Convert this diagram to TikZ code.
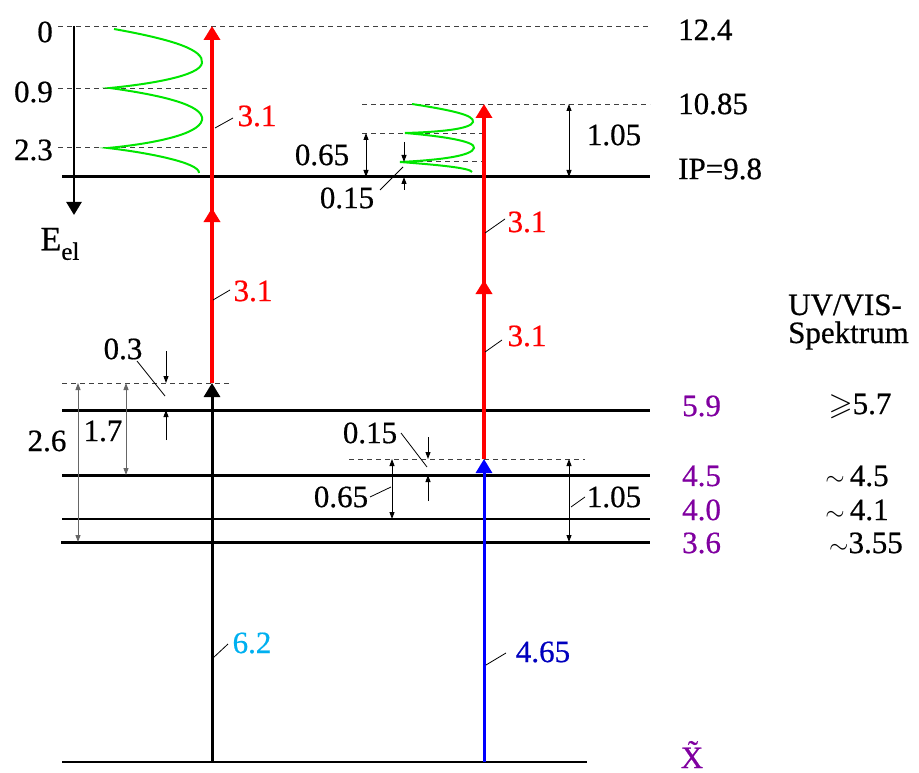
\documentclass[tikz,border=0pt]{standalone}
\usepackage{amssymb}
\usepackage{fontspec}
\setmainfont{Liberation Serif}
\newfontfamily\tmsfont[FakeBold=0.6]{Liberation Serif}
\usetikzlibrary{arrows.meta}
\definecolor{lvpurple}{RGB}{128,0,160}
\definecolor{cyanlab}{RGB}{0,176,240}
\definecolor{navylab}{RGB}{0,0,190}
\definecolor{wavegreen}{RGB}{0,230,0}
\begin{document}
\begin{tikzpicture}[x=1pt,y=-1pt,
  font=\tmsfont\fontsize{31}{36}\selectfont,
  level/.style={line width=3pt},
  thinlevel/.style={line width=2pt},
  dashlev/.style={dash pattern=on 5pt off 4pt, line width=0.9pt, black!75},
  photon/.style={line width=3.5pt, -{Triangle[length=14pt,width=16pt]}},
  dimarr/.style={line width=0.9pt, {Triangle[length=7pt,width=5pt]}-{Triangle[length=7pt,width=5pt]}},
  sarrow/.style={line width=0.9pt, -{Triangle[length=7pt,width=5pt]}},
  leader/.style={line width=0.8pt},
  lab/.style={inner sep=0pt},
  wave/.style={wavegreen, line width=2pt}]
\useasboundingbox (0,0) rectangle (919,773);

% dashed reference lines
\draw[dashlev] (58,26) -- (648,26);
\draw[dashlev] (58,88) -- (210,88);
\draw[dashlev] (58,147) -- (210,147);
\draw[dashlev] (362,104) -- (650,104);
\draw[dashlev] (362,133) -- (482,133);
\draw[dashlev] (400,161) -- (482,161);
\draw[dashlev] (62,383) -- (230,383);
\draw[dashlev] (349,459) -- (585,459);

% vibrational waves
\draw[wave] (114,29) .. controls (175,40) and (204,50) .. (202,63)
  .. controls (200,76) and (150,84) .. (110,88)
  .. controls (160,95) and (205,105) .. (202,120)
  .. controls (199,135) and (150,144) .. (108,148)
  .. controls (150,153) and (200,163) .. (199,173);
\draw[wave] (412,104) .. controls (450,110) and (475,115) .. (473,122)
  .. controls (471,129) and (440,132) .. (405,133)
  .. controls (440,136) and (476,141) .. (474,148)
  .. controls (472,156) and (440,160) .. (400,162)
  .. controls (440,165) and (470,168) .. (472,172);

% energy levels
\draw[level] (62,177) -- (650,177);
\draw[level] (62,410) -- (650,410);
\draw[level] (62,475) -- (650,475);
\draw[thinlevel] (62,519) -- (650,519);
\draw[level] (61,542) -- (650,542);
\draw[thinlevel] (62,762) -- (587,762);

% axis
\coordinate (axtop) at (74,26);
\coordinate (axbot) at (74,215);
\draw[line width=2.5pt, -{Triangle[length=13pt,width=15pt]}] (axtop) -- (axbot);
\node[lab] (eel) at (60,244) {\fontsize{34}{38}\selectfont E\raisebox{-0.28em}{\fontsize{25}{28}\selectfont el}};
\node[lab, anchor=east] (l0) at (53,32) {0};
\node[lab, anchor=east] (l09) at (53,92) {0.9};
\node[lab, anchor=east] (l23) at (53,150) {2.3};

% left column transitions
\coordinate (a0) at (212,762);
\coordinate (a1) at (212,383);
\coordinate (a2) at (212,208);
\coordinate (a2s) at (212,214);
\coordinate (a3) at (212,26);
\draw[photon, black, line width=3pt] (a0) -- (a1);
\draw[photon, red] (a1) -- (a2);
\draw[photon, red] (a2s) -- (a3);

% right column transitions
\coordinate (b0) at (484,762);
\coordinate (b1) at (484,459);
\coordinate (b2) at (484,280);
\coordinate (b2s) at (484,286);
\coordinate (b3) at (484,104);
\draw[photon, blue, line width=3pt] (b0) -- (b1);
\draw[photon, red] (b1) -- (b2);
\draw[photon, red] (b2s) -- (b3);

% transition labels
\node[lab, red] (t1) at (257,116) {3.1};
\draw[leader] (215,128) -- (233,118);
\node[lab, red] (t2) at (253,291) {3.1};
\draw[leader] (213,300) -- (230,290);
\node[lab, red] (t3) at (527,222) {3.1};
\draw[leader] (485,233) -- (505,219);
\node[lab, red] (t4) at (527,336) {3.1};
\draw[leader] (485,352) -- (502,340);
\node[lab, cyanlab] (t5) at (252,643) {6.2};
\draw[leader] (213,658) -- (228,644);
\node[lab, navylab] (t6) at (543,652) {4.65};
\draw[leader] (486,665) -- (506,653);

% left dimensions
\draw[dimarr, black!60] (78,383) -- (78,542);
\draw[dimarr, black!60] (126,383) -- (126,475);
\node[lab] (d26) at (47,441) {2.6};
\node[lab] (d17) at (103,431) {1.7};
\draw[sarrow] (166,351) -- (166,383);
\draw[sarrow] (166,440) -- (166,410);
\node[lab] (d03) at (123,349) {0.3};
\draw[leader] (137,361) -- (165,396);

% right lower dimensions
\draw[sarrow] (428,437) -- (428,459);
\draw[sarrow] (428,501) -- (428,475);
\node[lab] (d015b) at (370,433) {0.15};
\draw[leader] (401,433) -- (427,467);
\draw[dimarr] (392,459) -- (392,519);
\node[lab] (d065b) at (341,497) {0.65};
\draw[leader] (370,497) -- (391,487);
\draw[dimarr] (569,459) -- (569,542);
\node[lab] (d105b) at (614,497) {1.05};
\draw[leader] (571,507) -- (585,497);

% right upper dimensions
\draw[dimarr] (366,133) -- (366,177);
\node[lab] (d065t) at (322,155) {0.65};
\draw[sarrow] (404,142) -- (404,162);
\draw[sarrow] (404,190) -- (404,177);
\node[lab] (d015t) at (347,198) {0.15};
\draw[leader] (380,190) -- (403,167);
\draw[dimarr] (569,104) -- (569,177);
\node[lab] (d105t) at (614,135) {1.05};

% right labels
\node[lab, anchor=west] (r124) at (678,30) {12.4};
\node[lab, anchor=west] (r1085) at (678,104) {10.85};
\node[lab, anchor=west] (rip) at (678,169) {IP=9.8};
\node[lab, anchor=west, lvpurple] (p59) at (682,406) {5.9};
\node[lab, anchor=west, lvpurple] (p45) at (682,476) {4.5};
\node[lab, anchor=west, lvpurple] (p40) at (682,510) {4.0};
\node[lab, anchor=west, lvpurple] (p36) at (682,543) {3.6};
\node[lab, lvpurple, anchor=base] (px) at (692,768) {\~X};
\node[lab, anchor=base west] (uv1) at (788,315) {UV/VIS-};
\node[lab, anchor=base west] (uv2) at (788,343) {Spektrum};
\node[lab] (s57) at (860,406) {$\geqslant$5.7};
\node[lab] (s45) at (857,476) {$\sim$\,4.5};
\node[lab] (s41) at (857,510) {$\sim$\,4.1};
\node[lab] (s355) at (866,543) {$\sim$3.55};
\end{tikzpicture}
\end{document}
